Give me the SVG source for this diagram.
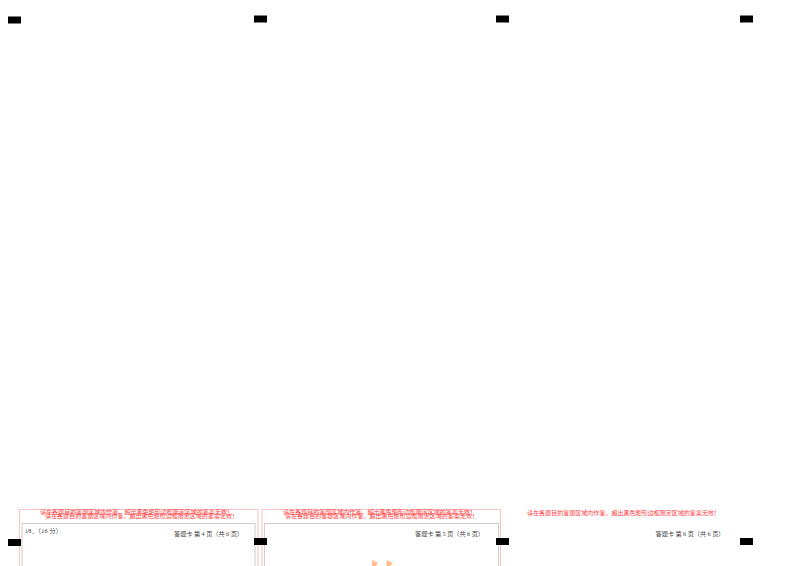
<svg xmlns="http://www.w3.org/2000/svg" width="800" height="566" viewBox="0 0 800 566">
<style>
.m{fill:#000}
.p{fill:none;stroke:#ffc4c4;stroke-width:1.100}
.g{fill:none;stroke:#d0d0d0;stroke-width:1.100}
.r{font-family:"Liberation Serif","Noto Sans CJK SC",serif;font-size:6px;fill:#ff4040}
.k{font-family:"Liberation Serif","Noto Sans CJK SC",serif;font-size:6.200px;fill:#444}
</style>
<rect width="800" height="566" fill="#fff"/>
<g id="page4">
<path class="p" d="M19.500 566V509.500H258V566"/>
<path class="g" d="M22 566V523.500H255V566"/>
<text class="r" x="40" y="514" textLength="193">请在各题目的答题区域内作答，超出黑色矩形边框限定区域的答案无效！</text>
<text class="r" x="45" y="517.500" textLength="193">请在各题目的答题区域内作答，超出黑色矩形边框限定区域的答案无效！</text>
<text class="k" x="25" y="532.500" textLength="37">18．（16 分）</text>
<text class="k" x="174" y="536" textLength="69">答题卡 第 4 页（共 6 页）</text>
</g>
<g id="page5">
<path class="p" d="M262 566V509.500H500.500V566"/>
<path class="g" d="M264.500 566V523.500H498.500V566"/>
<text class="r" x="283" y="514" textLength="193">请在各题目的答题区域内作答，超出黑色矩形边框限定区域的答案无效！</text>
<text class="r" x="285" y="517.500" textLength="193">请在各题目的答题区域内作答，超出黑色矩形边框限定区域的答案无效！</text>
<text class="k" x="415" y="536" textLength="69">答题卡 第 5 页（共 6 页）</text>
<path d="M372 560L378 563L376 566H372Z" fill="#ffbf8f"/>
<path d="M386.500 560L393 563L390 566H386.500Z" fill="#ffbf8f"/>
</g>
<g id="page6">
<text class="r" x="527" y="514.500" textLength="193">请在各题目的答题区域内作答，超出黑色矩形边框限定区域的答案无效！</text>
<text class="k" x="655.500" y="536" textLength="69">答题卡 第 6 页（共 6 页）</text>
</g>
<g id="marks">
<rect class="m" x="8" y="16.500" width="13" height="7"/>
<rect class="m" x="254" y="15.500" width="13" height="7"/>
<rect class="m" x="496" y="15.500" width="13" height="7"/>
<rect class="m" x="740" y="15.500" width="13" height="7"/>
<rect class="m" x="8" y="539" width="13" height="7"/>
<rect class="m" x="254" y="538" width="13" height="7"/>
<rect class="m" x="496" y="538" width="13" height="7"/>
<rect class="m" x="740" y="538" width="13" height="7"/>
</g>
</svg>
